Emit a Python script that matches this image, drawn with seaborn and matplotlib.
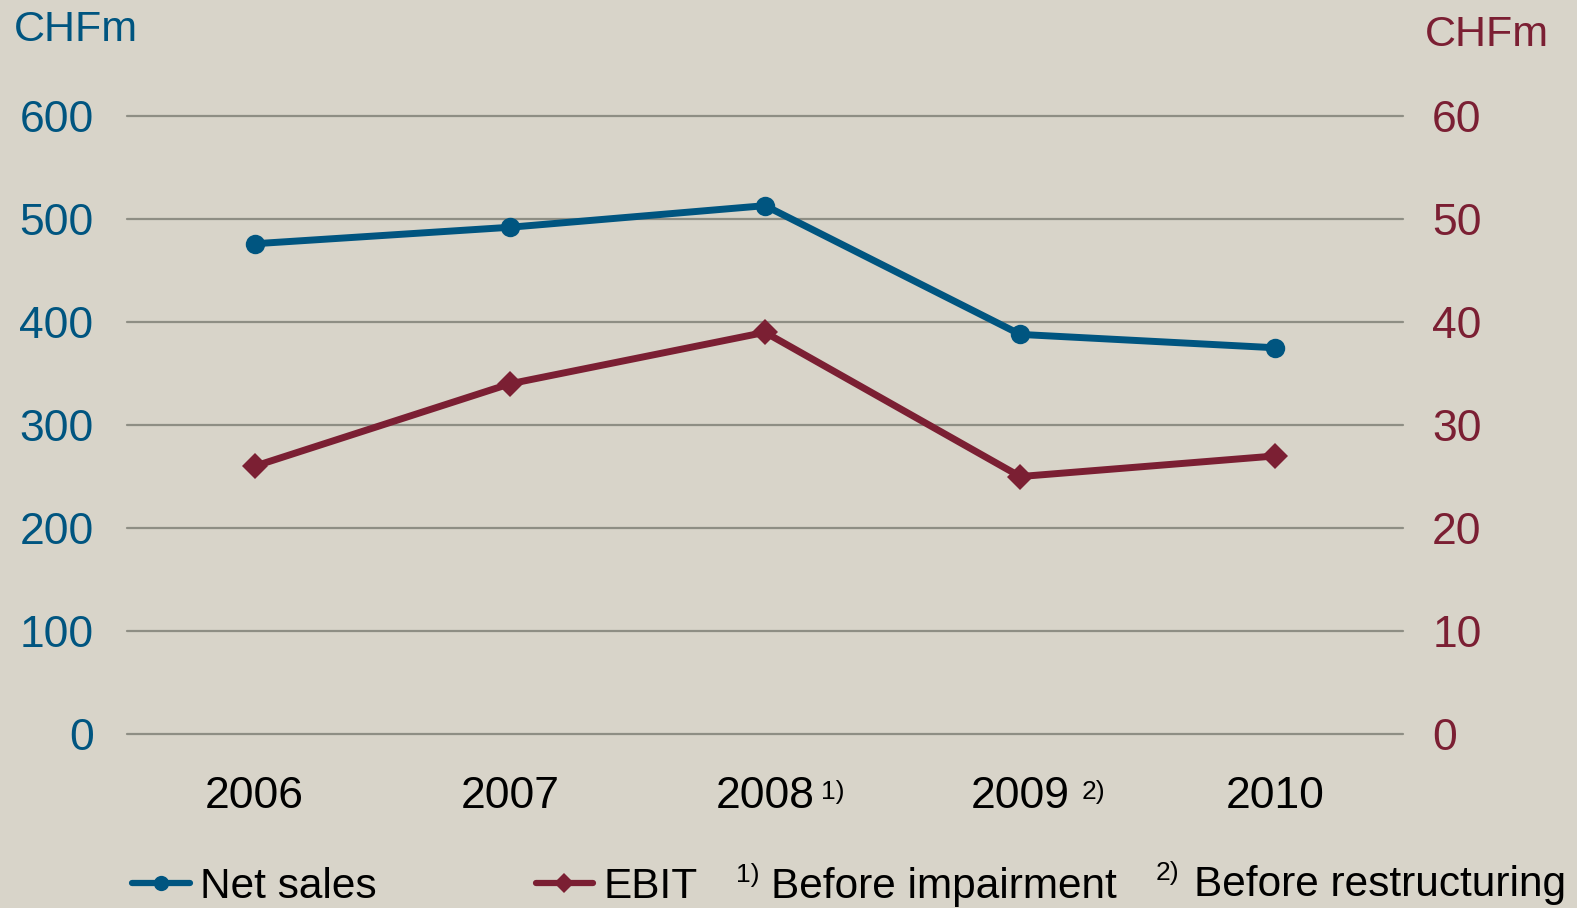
import matplotlib
matplotlib.use("Agg")
import matplotlib.pyplot as plt
import seaborn as sns
from matplotlib.lines import Line2D

# data
years = ["2006", "2007", "2008", "2009", "2010"]
net_sales = [476, 492, 513, 388, 375]
ebit = [26.0, 34.0, 39.0, 25.0, 27.0]
left_ticks = [0, 100, 200, 300, 400, 500, 600]
right_ticks = [0, 10, 20, 30, 40, 50, 60]

bg = "#D8D4C9"
blue = "#005580"
red = "#7B1F33"
grid_col = "#8E8E84"

sns.set_style("white")
plt.rcParams["font.family"] = ["Liberation Sans", "DejaVu Sans"]
plt.rcParams["text.color"] = "black"

fig = plt.figure(figsize=(15.77, 9.08), dpi=100, facecolor=bg)
ax = fig.add_axes([0.0805, 0.1916, 0.8092, 0.6806])
ax.set_facecolor(bg)
ax2 = ax.twinx()

pos = list(range(len(years)))
sns.lineplot(x=pos, y=net_sales, ax=ax, color=blue, linewidth=5, marker="o",
             markersize=14, markeredgewidth=0, zorder=3)
sns.lineplot(x=pos, y=ebit, ax=ax2, color=red, linewidth=5, marker="D",
             markersize=13, markeredgewidth=0, zorder=3)

ax.set_xlim(-0.5, 4.5)
ax.set_ylim(0, 600)
ax2.set_ylim(0, 60)
ax.set_yticks(left_ticks)
ax2.set_yticks(right_ticks)
ax.set_xticks(pos)
ax.set_xticklabels(years)

for a in (ax, ax2):
    for s in a.spines.values():
        s.set_visible(False)
ax.grid(axis="y", color=grid_col, lw=1.6)
for gl in ax.get_ygridlines():
    gl.set_clip_on(False)
ax.set_axisbelow(True)

ax.tick_params(axis="y", length=0, pad=24, labelsize=32, labelcolor=blue)
ax2.tick_params(axis="y", length=0, pad=21, labelsize=32, labelcolor=red)
ax.tick_params(axis="x", length=0, pad=30, labelsize=32, labelcolor="black")

# footnote markers next to the year labels
ax.annotate("1)", xy=(2, 0), xycoords=("data", "axes fraction"),
            xytext=(40, -33), textcoords="offset points",
            fontsize=19, va="top", ha="left", color="black")
ax.annotate("2)", xy=(3, 0), xycoords=("data", "axes fraction"),
            xytext=(44, -33), textcoords="offset points",
            fontsize=19, va="top", ha="left", color="black")

# axis unit labels
fig.text(0.009, 0.967, "CHFm", color=blue, fontsize=31, va="center", ha="left")
fig.text(0.982, 0.962, "CHFm", color=red, fontsize=31, va="center", ha="right")

# legend
handles = [Line2D([], [], color=blue, lw=4.5, marker="o", markersize=11, markeredgewidth=0),
           Line2D([], [], color=red, lw=4.5, marker="D", markersize=10, markeredgewidth=0)]
fig.legend(handles, ["Net sales", "EBIT"], loc="lower left",
           bbox_to_anchor=(0.084, 0.001), ncol=2, frameon=False, fontsize=30.5,
           handlelength=1.35, handletextpad=0.25, columnspacing=3.75,
           borderpad=0, borderaxespad=0)

# footnotes
fig.text(0.467, 0.050, "1)", fontsize=19, va="top", ha="left")
fig.text(0.489, 0.011, "Before impairment", fontsize=30.5, va="baseline", ha="left")
fig.text(0.733, 0.052, "2)", fontsize=19, va="top", ha="left")
fig.text(0.757, 0.013, "Before restructuring", fontsize=30.5, va="baseline", ha="left")

fig.savefig("out.png", dpi=100, facecolor=bg)
